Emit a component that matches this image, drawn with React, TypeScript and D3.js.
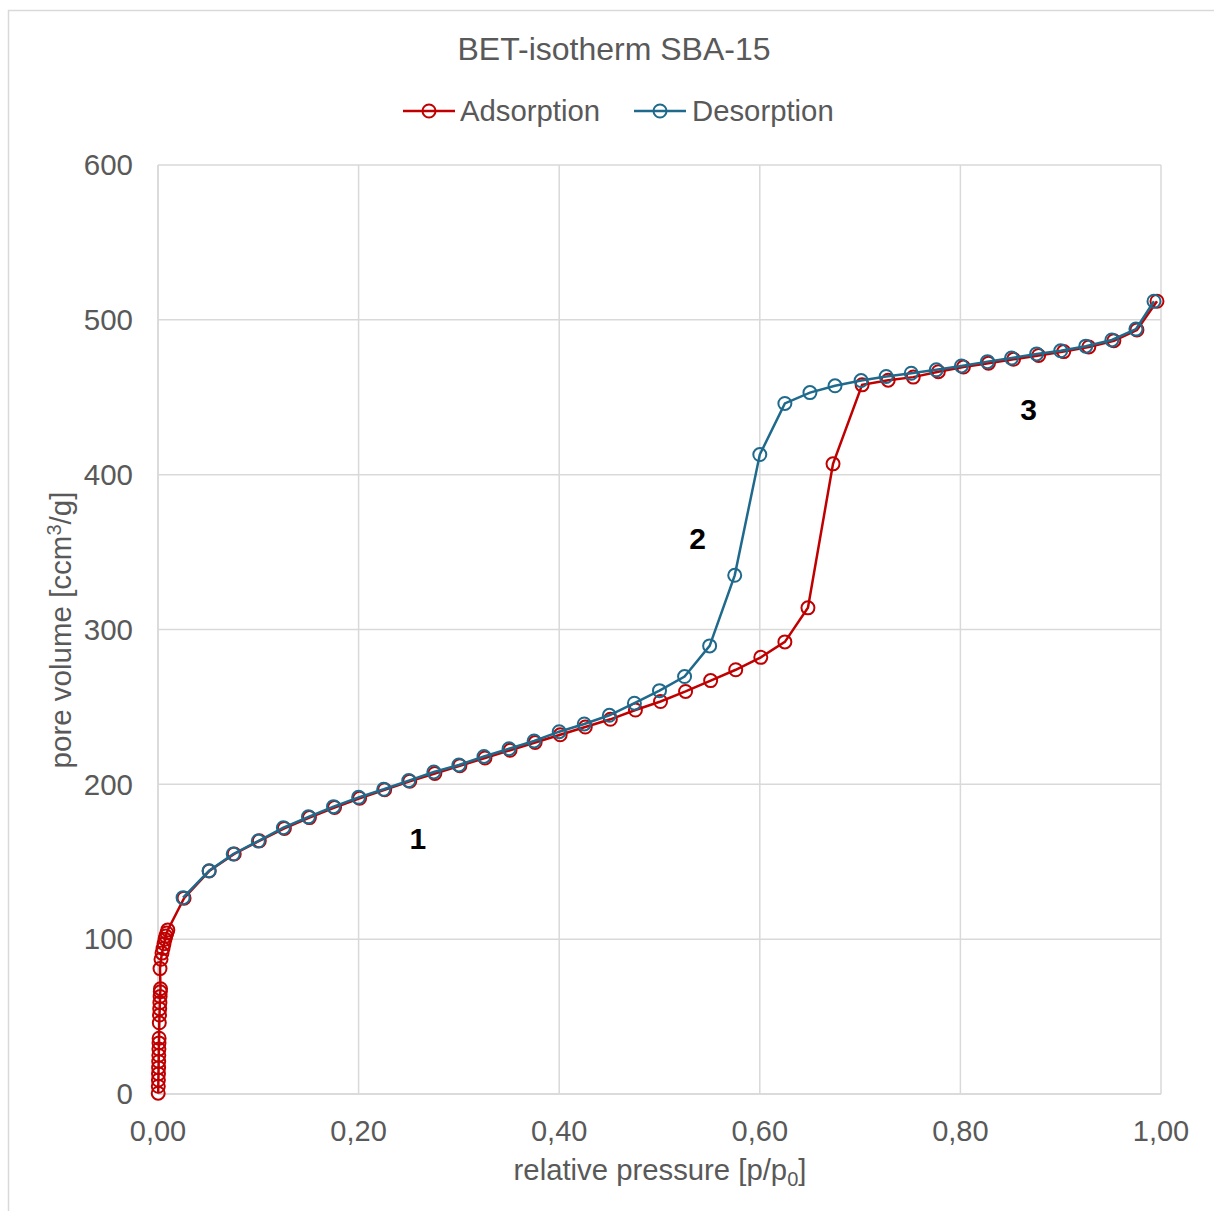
import React, { useLayoutEffect } from 'react';
import * as d3 from 'd3';

// adsorption branch (p/p0, pore volume)
const adsorptionP = [
  0.0002, 0.0003, 0.0004, 0.0005, 0.0006, 0.0007, 0.0008, 0.0009, 0.001, 0.0011,
  0.0013, 0.0015, 0.0017, 0.0019, 0.0021, 0.0023, 0.0025,
  0.002, 0.003, 0.004, 0.005, 0.006, 0.007, 0.0078, 0.0088, 0.0098,
  0.026, 0.051, 0.076, 0.101, 0.126, 0.151, 0.176, 0.201, 0.226, 0.251,
  0.276, 0.301, 0.326, 0.351, 0.376, 0.401, 0.426, 0.451, 0.476, 0.501,
  0.526, 0.551, 0.576, 0.601, 0.625, 0.648, 0.673, 0.702, 0.728, 0.753,
  0.778, 0.803, 0.828, 0.853, 0.878, 0.903, 0.928, 0.953, 0.976, 0.996,
];
const adsorptionV = [
  0.5, 5, 9, 13, 17, 21, 25, 29, 33, 36,
  46, 51, 55, 59, 63, 66, 68,
  81, 87, 91, 94, 97, 100, 102, 104, 106,
  126.5, 144, 155, 163.5, 171.5, 178.5, 185, 191, 196.5, 202,
  207, 212, 217, 222, 227, 232, 237, 242, 248, 253.5,
  260, 267, 274, 282, 292, 314, 407, 458, 461, 463,
  466.5, 469.5, 472, 474.5, 477, 479.5, 482.5, 486.5, 493.5, 512,
];

// desorption branch
const desorptionP = [
  0.993, 0.975, 0.951, 0.925, 0.9, 0.876, 0.851, 0.827, 0.801, 0.776,
  0.751, 0.726, 0.701, 0.675, 0.65, 0.625, 0.6, 0.575, 0.55, 0.525,
  0.5, 0.475, 0.45, 0.425, 0.4, 0.375, 0.35, 0.325, 0.3, 0.275,
  0.25, 0.225, 0.2, 0.175, 0.15, 0.125, 0.1, 0.075, 0.051, 0.025,
];
const desorptionV = [
  512, 494, 487, 483, 480, 478, 475.3, 473, 470.2, 467.7,
  465.5, 463.4, 460.8, 457.4, 453, 446, 413, 335, 289.4, 269.6,
  260.5, 252.4, 244.6, 239, 234, 228, 223, 218, 212.5, 208,
  202.4, 196.8, 191.6, 185.6, 179, 172, 163.4, 155, 144.2, 126.8,
];

const xTicks = [0, 0.2, 0.4, 0.6, 0.8, 1.0];
const yTicks = [0, 100, 200, 300, 400, 500, 600];

const regionLabels = ['1', '2', '3'];
const regionP = [0.259, 0.538, 0.868];
const regionV = [164.7, 358.5, 441.8];

const RED = '#C00000';
const BLUE = '#1F6A8C';
const GRID = '#D9D9D9';
const TEXT = '#595959';
const FONT = '"Liberation Sans", Arial, sans-serif';

export default function App() {
  useLayoutEffect(() => {
    document.body.style.margin = '0';
    document.body.style.overflow = 'hidden';
  }, []);

  const width = 1214;
  const height = 1211;
  const left = 158;
  const right = 1161;
  const top = 165;
  const bottom = 1094;

  const x = d3.scaleLinear().domain([0, 1]).range([left, right]);
  const y = d3.scaleLinear().domain([0, 600]).range([bottom, top]);

  const ads = adsorptionP.map((p, i) => [p, adsorptionV[i]] as [number, number]);
  const des = desorptionP.map((p, i) => [p, desorptionV[i]] as [number, number]);

  const line = d3.line<[number, number]>()
    .x(d => x(d[0]))
    .y(d => y(d[1]));

  const fmt = (v: number) => d3.format('.2f')(v).replace('.', ',');

  return (
    <svg width={width} height={height} style={{ display: 'block', fontFamily: FONT }}>
      <rect x={0} y={0} width={width} height={height} fill="#fff" />
      <rect x={8.5} y={10.5} width={width + 20} height={height + 20} fill="none" stroke={GRID} strokeWidth={1.5} />

      {/* grid */}
      {yTicks.map(t => (
        <line key={'gy' + t} x1={left} x2={right} y1={y(t)} y2={y(t)} stroke={GRID} strokeWidth={1.5} />
      ))}
      {xTicks.map(t => (
        <line key={'gx' + t} x1={x(t)} x2={x(t)} y1={top} y2={bottom} stroke={GRID} strokeWidth={1.5} />
      ))}
      <line x1={left} x2={left} y1={top} y2={bottom} stroke={GRID} strokeWidth={1.5} />
      <line x1={left} x2={right} y1={bottom} y2={bottom} stroke={GRID} strokeWidth={1.5} />

      {/* tick labels */}
      {yTicks.map(t => (
        <text key={'ty' + t} x={133} y={y(t)} dy="0.35em" textAnchor="end" fontSize={29.5} fill={TEXT}>{t}</text>
      ))}
      {xTicks.map(t => (
        <text key={'tx' + t} x={x(t)} y={1141} textAnchor="middle" fontSize={29} fill={TEXT}>{fmt(t)}</text>
      ))}

      {/* axis titles */}
      <text x={660} y={1180} textAnchor="middle" fontSize={29.3} fill={TEXT}>
        relative pressure [p/p<tspan fontSize={20} dy={6}>0</tspan><tspan dy={-6}>]</tspan>
      </text>
      <text transform="translate(71,630) rotate(-90)" textAnchor="middle" fontSize={29.5} fill={TEXT}>
        pore volume [ccm<tspan fontSize={20} dy={-10}>3</tspan><tspan dy={10}>/g]</tspan>
      </text>

      {/* title */}
      <text x={614} y={60} textAnchor="middle" fontSize={32} fill={TEXT}>BET-isotherm SBA-15</text>

      {/* legend */}
      <g>
        <line x1={403} x2={455} y1={111} y2={111} stroke={RED} strokeWidth={2.5} />
        <circle cx={429} cy={111} r={6.5} fill="none" stroke={RED} strokeWidth={2} />
        <text x={460} y={121} fontSize={29.3} fill={TEXT}>Adsorption</text>
        <line x1={634} x2={686} y1={111} y2={111} stroke={BLUE} strokeWidth={2.5} />
        <circle cx={660} cy={111} r={6.5} fill="none" stroke={BLUE} strokeWidth={2} />
        <text x={692} y={121} fontSize={29.3} fill={TEXT}>Desorption</text>
      </g>

      {/* adsorption */}
      <path d={line(ads) || ''} fill="none" stroke={RED} strokeWidth={2.5} />
      {ads.map((d, i) => (
        <circle key={'a' + i} cx={x(d[0])} cy={y(d[1])} r={6.5} fill="none" stroke={RED} strokeWidth={2} />
      ))}

      {/* desorption */}
      <path d={line(des) || ''} fill="none" stroke={BLUE} strokeWidth={2.5} />
      {des.map((d, i) => (
        <circle key={'d' + i} cx={x(d[0])} cy={y(d[1])} r={6.5} fill="none" stroke={BLUE} strokeWidth={2} />
      ))}

      {/* region labels */}
      {regionLabels.map((l, i) => (
        <text key={'r' + l} x={x(regionP[i])} y={y(regionV[i])} dy="0.35em" textAnchor="middle"
          fontSize={30} fontWeight="bold" fill="#000">{l}</text>
      ))}
    </svg>
  );
}
